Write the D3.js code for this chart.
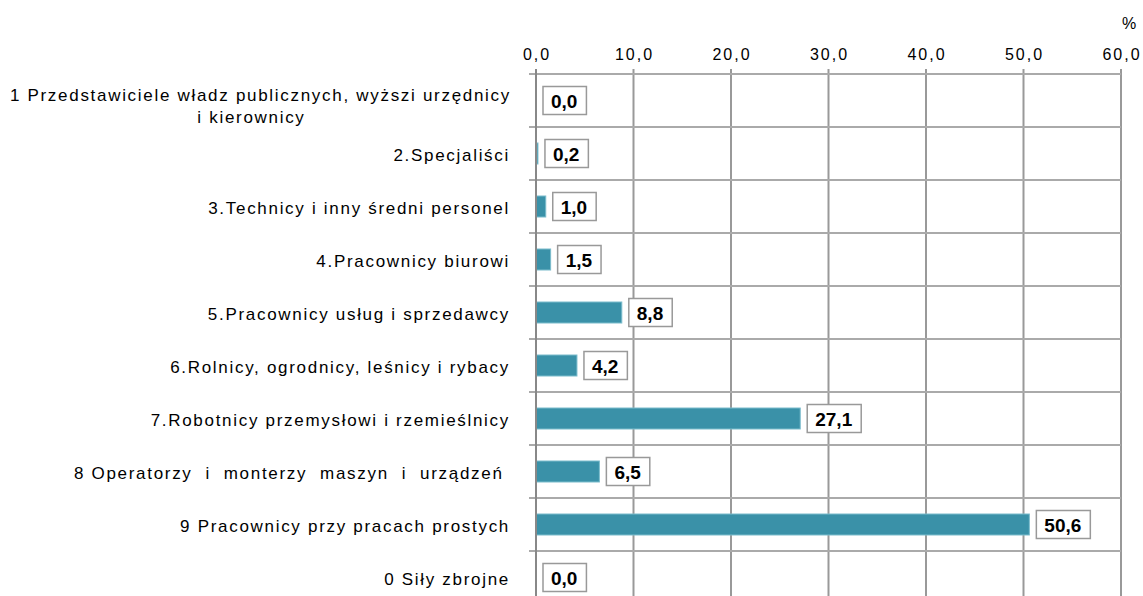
<!DOCTYPE html>
<html><head><meta charset="utf-8">
<script src="https://cdn.jsdelivr.net/npm/d3@7"></script>
<style>
html,body{margin:0;padding:0;background:#fff;}
svg{display:block;font-family:"Liberation Sans",Arial,sans-serif;}
svg text{white-space:pre;}
</style></head>
<body>
<svg id="c" width="1143" height="596"></svg>
<script>
const categories = [
  ["1 Przedstawiciele władz publicznych, wyższi urzędnicy", "i kierownicy"],
  ["2.Specjaliści"],
  ["3.Technicy i inny średni personel"],
  ["4.Pracownicy biurowi"],
  ["5.Pracownicy usług i sprzedawcy"],
  ["6.Rolnicy, ogrodnicy, leśnicy i rybacy"],
  ["7.Robotnicy przemysłowi i rzemieślnicy"],
  ["8 Operatorzy  i  monterzy  maszyn  i  urządzeń "],
  ["9 Pracownicy przy pracach prostych"],
  ["0 Siły zbrojne"]
];
const values = [0.0, 0.2, 1.0, 1.5, 8.8, 4.2, 27.1, 6.5, 50.6, 0.0];
const xTicks = [0, 10, 20, 30, 40, 50, 60];
const unitLabel = "%";

(function () {
const svg = d3.select("#c");
const pLeft = 536, pRight = 1121, pTop = 74, rowH = 53;
const pBottom = pTop + rowH * categories.length;
const idx = d3.range(categories.length);
const x = d3.scaleLinear().domain([0, 60]).range([pLeft, pRight]);
const y = d3.scaleBand().domain(idx).range([pTop, pBottom]).paddingInner(0).paddingOuter(0);
const fmt = v => d3.format(".1f")(v).replace(".", ",");

// vertical gridlines
svg.append("g").selectAll("line").data(xTicks).join("line")
  .attr("x1", d => x(d)).attr("x2", d => x(d))
  .attr("y1", pTop - 5).attr("y2", pBottom)
  .attr("stroke", "#999").attr("stroke-width", 2);
// horizontal gridlines
svg.append("g").selectAll("line").data(d3.range(categories.length + 1)).join("line")
  .attr("x1", pLeft - 7).attr("x2", pRight)
  .attr("y1", d => pTop + d * rowH).attr("y2", d => pTop + d * rowH)
  .attr("stroke", "#aaa").attr("stroke-width", 2);

// x axis tick labels
const tls = 2;
svg.append("g").selectAll("text").data(xTicks).join("text")
  .attr("x", d => x(d) + tls / 2).attr("y", 60)
  .attr("text-anchor", "middle").attr("font-size", 16).attr("letter-spacing", tls + "px")
  .attr("fill", "#000")
  .text(d => fmt(d));
svg.append("text").attr("x", 1129).attr("y", 29).attr("text-anchor", "middle")
  .attr("font-size", 16).text(unitLabel);

// bars
const bh = 21;
svg.append("g").selectAll("rect").data(idx).join("rect")
  .attr("x", x(0)).attr("y", i => y(i) + y.bandwidth() / 2 - bh / 2)
  .attr("width", i => x(values[i]) - x(0)).attr("height", bh)
  .attr("fill", "#3a91a8").attr("stroke", i => values[i] > 0 ? "#7bbccc" : "none").attr("stroke-width", 1);

// left axis line
svg.append("line").attr("x1", pLeft).attr("x2", pLeft).attr("y1", pTop - 5).attr("y2", pBottom)
  .attr("stroke", "#888").attr("stroke-width", 2);

// category labels
const lg = svg.append("g");
const cfs = 17, cls = "1.7px", lx = 510;
idx.forEach(i => {
  const lines = categories[i];
  const cy = y(i) + y.bandwidth() / 2;
  if (lines.length === 1) {
    lg.append("text").attr("font-size", cfs).attr("letter-spacing", cls)
      .attr("x", lx).attr("y", cy + 7.5).attr("text-anchor", "end").text(lines[0]);
  } else {
    const t1 = lg.append("text").attr("font-size", cfs).attr("letter-spacing", cls)
      .attr("x", lx + 1).attr("y", cy + 0.5).attr("text-anchor", "end").text(lines[0]);
    const w = t1.node().getComputedTextLength();
    lg.append("text").attr("font-size", cfs).attr("letter-spacing", cls)
      .attr("x", lx - w / 2 - 8).attr("y", cy + 22.5).attr("text-anchor", "middle").text(lines[1]);
  }
});

// value labels with boxes
const vg = svg.append("g");
idx.forEach(i => {
  const cy = y(i) + y.bandwidth() / 2;
  const bx = x(values[i]) + 7;
  const g = vg.append("g");
  const r = g.append("rect");
  const t = g.append("text").attr("font-size", 19).attr("font-weight", "bold")
    .attr("fill", "#000").text(fmt(values[i]));
  const w = t.node().getComputedTextLength();
  t.attr("x", bx + 8).attr("y", cy + 7);
  r.attr("x", bx).attr("y", cy - 14).attr("width", w + 17).attr("height", 28)
    .attr("fill", "#fff").attr("stroke", "#999").attr("stroke-width", 1.5);
});
})();
</script>
</body></html>
